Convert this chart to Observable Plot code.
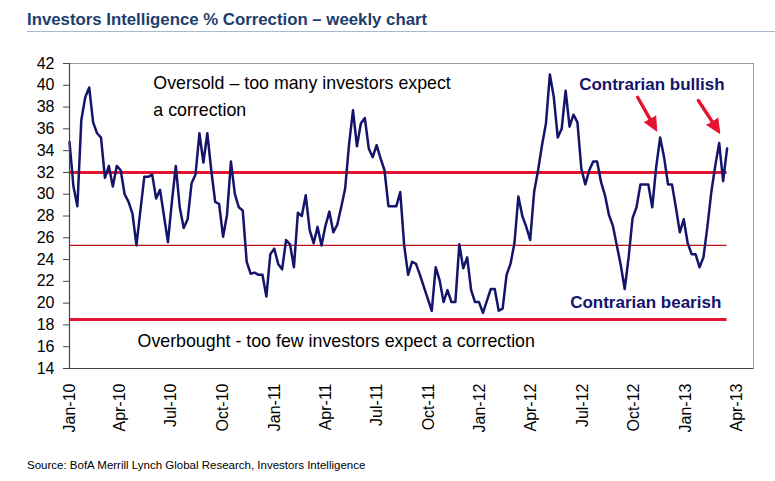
<!DOCTYPE html>
<html><head><meta charset="utf-8">
<script src="https://cdn.jsdelivr.net/npm/d3@7"></script>
<script src="https://cdn.jsdelivr.net/npm/@observablehq/plot@0.6"></script>
<style>
html,body{margin:0;padding:0;background:#fff}
body{width:775px;height:481px;overflow:hidden;position:relative;font-family:"Liberation Sans",Arial,sans-serif}
#chart{position:absolute;left:0;top:0}
#title{position:absolute;left:27px;top:12px;font-weight:bold;font-size:16.8px;line-height:1;color:#1e3d6e;white-space:nowrap}
#rule{position:absolute;left:27px;right:0;top:31px;height:0;border-top:1.5px solid #a9b9cc}
#source{position:absolute;left:27px;top:460px;font-size:11.5px;line-height:1;color:#000;white-space:nowrap}
</style></head><body>
<div id="chart"></div>
<div id="title">Investors Intelligence % Correction – weekly chart</div>
<div id="rule"></div>
<div id="source">Source: BofA Merrill Lynch Global Research, Investors Intelligence</div>
<script>
// Weekly readings, first week starting 2010-01-01
const startDate = "2010-01-01";
const values = [
  34.8, 30.7, 28.9, 36.8, 38.9, 39.8, 36.6, 35.6, 35.2, 31.5,
  32.6, 30.7, 32.6, 32.2, 30.0, 29.3, 28.2, 25.3, 28.5, 31.6,
  31.6, 31.8, 29.6, 30.4, 28.0, 25.6, 29.3, 32.6, 28.8, 26.9,
  27.7, 31.0, 31.8, 35.6, 32.9, 35.6, 32.2, 29.3, 29.1, 26.1,
  28.1, 33.0, 30.0, 28.8, 28.5, 23.8, 22.7, 22.8, 22.6, 22.6,
  20.6, 24.5, 25.0, 23.6, 23.1, 25.8, 25.4, 23.3, 28.3, 28.0,
  29.9, 26.7, 25.5, 27.0, 25.3, 27.1, 28.4, 26.5, 27.2, 28.8,
  30.5, 34.6, 37.7, 34.4, 36.5, 37.0, 34.2, 33.4, 34.5, 33.3,
  32.2, 28.9, 28.9, 28.9, 30.2, 25.3, 22.6, 23.8, 23.6, 22.6,
  21.5, 20.4, 19.3, 23.3, 22.1, 20.1, 21.2, 20.1, 20.1, 25.4,
  23.2, 24.2, 21.2, 20.1, 20.1, 19.1, 20.2, 21.3, 21.3, 19.3,
  19.5, 22.6, 23.6, 25.5, 29.8, 28.0, 27.0, 25.8, 30.2, 32.2,
  34.5, 36.5, 41.0, 38.9, 35.2, 36.0, 39.5, 36.2, 37.3, 36.6,
  32.3, 30.9, 32.2, 33.0, 33.0, 31.1, 29.9, 28.1, 27.1, 25.3,
  23.5, 21.3, 24.2, 27.8, 28.8, 30.9, 30.9, 30.9, 28.8, 32.5,
  35.2, 33.4, 30.9, 30.9, 28.8, 26.5, 27.7, 25.5, 24.5, 24.5,
  23.3, 24.2, 27.0, 30.2, 32.6, 34.7, 31.2, 34.2
];
const yTicks = [14, 16, 18, 20, 22, 24, 26, 28, 30, 32, 34, 36, 38, 40, 42];
const xDomain = ["2010-01-01", "2013-05-01"];
const xTickStart = "2010-01-01", xTickEnd = "2013-04-02";
const thickLevels = [32, 18.5];
const thinLevels = [25.3];

const plainNoteText = ["Oversold – too many investors expect", "a correction", "Overbought - too few investors expect a correction"];
const plainNoteDate = ["2010-05-30", "2010-05-30", "2010-05-02"];
const plainNoteValue = [39.7, 37.2, 15.94];

const boldNoteText = ["Contrarian bullish", "Contrarian bearish"];
const boldNoteDate = ["2012-06-25", "2012-06-09"];
const boldNoteValue = [39.6, 19.52];

const arrowFromDate = ["2012-10-07", "2013-01-23"];
const arrowFromValue = [38.9, 38.6];
const arrowToDate = ["2012-11-10", "2013-03-02"];
const arrowToValue = [35.8, 35.6];
const arrowAngle = [151, 148];

// build tables
const start = new Date(startDate);
const series = values.map((v, i) => ({date: d3.utcDay.offset(start, 7 * i), value: v}));
const first = series[0].date, last = series[series.length - 1].date;
const plainNotes = plainNoteText.map((t, i) => ({text: t, date: new Date(plainNoteDate[i]), value: plainNoteValue[i]}));
const boldNotes = boldNoteText.map((t, i) => ({text: t, date: new Date(boldNoteDate[i]), value: boldNoteValue[i]}));
const arrows = arrowFromDate.map((d, i) => ({x1: new Date(d), y1: arrowFromValue[i], x2: new Date(arrowToDate[i]), y2: arrowToValue[i], angle: arrowAngle[i]}));
const xTicks = d3.utcMonth.every(3).range(new Date(xTickStart), new Date(xTickEnd));

const navy = "#14146b";
const red = "#e4132f";

const chart = Plot.plot({
  width: 775,
  height: 481,
  marginLeft: 69,
  marginRight: 22,
  marginTop: 63,
  marginBottom: 113,
  style: {fontFamily: '"Liberation Sans", Arial, sans-serif', fontSize: "16px", background: "#fff", color: "#000", overflow: "visible"},
  x: {type: "utc", domain: xDomain.map(d => new Date(d))},
  y: {domain: [14, 42]},
  marks: [
    Plot.frame({stroke: "#9a9a9a", strokeWidth: 1}),
    Plot.ruleY(thinLevels, {y: d => d, x1: () => first, x2: () => last, stroke: "#c0101e", strokeWidth: 1.2}),
    Plot.ruleY(thickLevels, {y: d => d, x1: () => first, x2: () => last, stroke: red, strokeWidth: 3}),
    Plot.lineY(series, {x: "date", y: "value", stroke: navy, strokeWidth: 2.5}),
    Plot.ruleY([14], {stroke: "#444", strokeWidth: 1.2}),
    Plot.ruleX([new Date(xDomain[0])], {stroke: "#444", strokeWidth: 1.2}),
    Plot.axisY({ticks: yTicks, tickSize: 6, tickPadding: 9, fontSize: 16, label: null, stroke: "#444"}),
    Plot.axisX({ticks: xTicks, tickFormat: d3.utcFormat("%b-%y"), tickRotate: -90, tickSize: 0, tickPadding: 15, fontSize: 16, label: null}),
    Plot.text(plainNotes, {x: "date", y: "value", text: "text", textAnchor: "start", lineAnchor: "bottom", fontSize: 17.8, fill: "#000"}),
    Plot.text(boldNotes, {x: "date", y: "value", text: "text", textAnchor: "start", lineAnchor: "bottom", fontSize: 17, fontWeight: "bold", fill: navy}),
    Plot.arrow(arrows, {x1: "x1", y1: "y1", x2: "x2", y2: "y2", stroke: red, strokeWidth: 3.4, headLength: 0, insetEnd: 9}),
    Plot.vector(arrows, {x: "x2", y: "y2", rotate: "angle", length: 14, r: 6.5, anchor: "end", shape: "spike", fill: red, stroke: red, strokeWidth: 1})
  ]
});
document.getElementById("chart").appendChild(chart);
</script>
</body></html>
